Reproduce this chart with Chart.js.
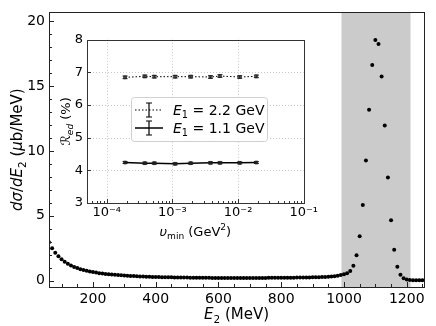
<!DOCTYPE html>
<html>
<head>
<meta charset="utf-8">
<script src="https://cdn.jsdelivr.net/npm/chart.js@4/dist/chart.umd.min.js"></script>
<style>
  body { margin: 0; background: #fff; }
  #wrap { position: relative; width: 436px; height: 326px; }
  #main { position: absolute; left: 0; top: 0; }
  #inset { position: absolute; left: 50px; top: 28px; }
</style>
</head>
<body>
<div id="wrap">
  <canvas id="main" width="436" height="326"></canvas>
  <canvas id="inset" width="270" height="215"></canvas>
</div>
<script>
// main plot: cross section vs E2 (MeV)
let energies = [60, 70, 80, 90, 100, 110, 120, 130, 140, 150,
  160, 170, 180, 190, 200, 210, 220, 230, 240, 250,
  260, 270, 280, 290, 300, 310, 320, 330, 340, 350,
  360, 370, 380, 390, 400, 410, 420, 430, 440, 450,
  460, 470, 480, 490, 500, 510, 520, 530, 540, 550,
  560, 570, 580, 590, 600, 610, 620, 630, 640, 650,
  660, 670, 680, 690, 700, 710, 720, 730, 740, 750,
  760, 770, 780, 790, 800, 810, 820, 830, 840, 850,
  860, 870, 880, 890, 900, 910, 920, 930, 940, 950,
  960, 970, 980, 990, 1000, 1010, 1020, 1030, 1040, 1050,
  1060, 1070, 1080, 1090, 1100, 1110, 1120, 1130, 1140, 1150,
  1160, 1170, 1180, 1190, 1200, 1210, 1220, 1230, 1240, 1250];

let crossSection = [2.95, 2.50, 2.15, 1.87, 1.64, 1.45, 1.29, 1.16, 1.05, 0.96,
  0.88, 0.81, 0.75, 0.70, 0.65, 0.61, 0.57, 0.54, 0.51, 0.48,
  0.46, 0.44, 0.42, 0.40, 0.38, 0.37, 0.35, 0.34, 0.33, 0.32,
  0.31, 0.30, 0.29, 0.28, 0.28, 0.27, 0.26, 0.26, 0.25, 0.25,
  0.24, 0.24, 0.23, 0.23, 0.23, 0.22, 0.22, 0.22, 0.21, 0.21,
  0.21, 0.21, 0.20, 0.20, 0.20, 0.20, 0.20, 0.20, 0.20, 0.20,
  0.20, 0.20, 0.20, 0.20, 0.20, 0.20, 0.20, 0.20, 0.20, 0.20,
  0.21, 0.21, 0.21, 0.21, 0.21, 0.22, 0.22, 0.22, 0.22, 0.23,
  0.23, 0.23, 0.24, 0.24, 0.25, 0.25, 0.26, 0.27, 0.28, 0.29,
  0.31, 0.33, 0.36, 0.43, 0.48, 0.56, 0.73, 1.14, 1.95, 3.41,
  5.83, 9.27, 13.18, 16.64, 18.56, 18.26, 15.76, 11.97, 7.95, 4.65,
  2.38, 1.06, 0.45, 0.18, 0.07, 0.04, 0.03, 0.03, 0.03, 0.03];

let xTicks = [200, 400, 600, 800, 1000, 1200];
let yTicks = [0, 5, 10, 15, 20];
let bandRange = [992, 1212]; // shaded E2 window

// inset: ratio vs nu_min (GeV^2)
let nuMin = [1.9e-4, 3.8e-4, 5.3e-4, 1.1e-3, 1.9e-3, 3.8e-3, 5.3e-3, 1.06e-2, 1.9e-2];
let ratio22 = [6.85, 6.88, 6.87, 6.87, 6.87, 6.86, 6.89, 6.86, 6.88];
let err22 = [0.04, 0.04, 0.04, 0.04, 0.04, 0.04, 0.04, 0.04, 0.04];
let ratio11 = [4.24, 4.22, 4.22, 4.20, 4.22, 4.23, 4.23, 4.23, 4.24];
let err11 = [0.03, 0.03, 0.03, 0.03, 0.03, 0.03, 0.03, 0.03, 0.03];
let insetXTicks = [1e-4, 1e-3, 1e-2, 1e-1];
let insetXTickLabels = ["10\u207B\u2074", "10\u207B\u00B3", "10\u207B\u00B2", "10\u207B\u00B9"];
let insetYTicks = [3, 4, 5, 6, 7, 8];

let fam = "'DejaVu Sans', sans-serif";

// draw text made of pieces: [text, italic, shift] (shift -1 = subscript, 1 = superscript)
function drawRich(ctx, parts, x, y, size, angle, align) {
  ctx.save();
  ctx.translate(x, y);
  ctx.rotate(angle || 0);
  let fontFor = p => (p[1] ? "italic " : "") + (p[2] ? size * 0.7 : size) + "px " + fam;
  let w = 0;
  parts.forEach(p => { ctx.font = fontFor(p); w += ctx.measureText(p[0]).width; });
  let cx = align === "left" ? 0 : -w / 2;
  ctx.fillStyle = "#000";
  ctx.textBaseline = "alphabetic";
  ctx.textAlign = "left";
  parts.forEach(p => {
    ctx.font = fontFor(p);
    let dy = p[2] === -1 ? size * 0.22 : p[2] === 1 ? -size * 0.4 : 0;
    ctx.fillText(p[0], cx, size * 0.36 + dy);
    cx += ctx.measureText(p[0]).width;
  });
  ctx.restore();
}

// main chart extras: grey band, frame, inward ticks, axis titles
let mainDecor = {
  id: "mainDecor",
  beforeDatasetsDraw(chart) {
    let ctx = chart.ctx, a = chart.chartArea, x = chart.scales.x;
    ctx.save();
    ctx.fillStyle = "#cbcbcb";
    let x0 = x.getPixelForValue(bandRange[0]), x1 = x.getPixelForValue(bandRange[1]);
    ctx.fillRect(x0, a.top, x1 - x0, a.bottom - a.top);
    ctx.restore();
  },
  afterDraw(chart) {
    let ctx = chart.ctx, a = chart.chartArea, x = chart.scales.x, y = chart.scales.y;
    ctx.save();
    ctx.strokeStyle = "#222";
    ctx.lineWidth = 1;
    ctx.strokeRect(Math.round(a.left) + 0.5, Math.round(a.top) + 0.5,
      Math.round(a.right - a.left), Math.round(a.bottom - a.top));
    ctx.beginPath();
    for (let v = 100; v <= 1250; v += 50) {
      let px = Math.round(x.getPixelForValue(v)) + 0.5;
      let len = v % 200 === 0 ? 5 : 3;
      ctx.moveTo(px, a.bottom); ctx.lineTo(px, a.bottom - len);
    }
    for (let v = 0; v <= 20; v += 1) {
      let py = Math.round(y.getPixelForValue(v)) + 0.5;
      let len = v % 5 === 0 ? 5 : 3;
      ctx.moveTo(a.left, py); ctx.lineTo(a.left + len, py);
    }
    ctx.stroke();
    ctx.restore();

    drawRich(ctx, [["d", true], ["\u03C3", true], ["/", false], ["d", true], ["E", true], ["2", false, -1],
      [" (", false], ["\u03BC", true], ["b/MeV)", false]], 17, (a.top + a.bottom) / 2, 15, -Math.PI / 2);
    drawRich(ctx, [["E", true], ["2", false, -1], [" (MeV)", false]], (a.left + a.right) / 2, 314, 15, 0);
  }
};

let mainChart = new Chart(document.getElementById("main").getContext("2d"), {
  type: "scatter",
  data: {
    datasets: [{
      data: energies.map((e, i) => ({ x: e, y: crossSection[i] })),
      pointRadius: 2,
      pointBackgroundColor: "#000",
      pointBorderColor: "#000",
      pointBorderWidth: 0,
      showLine: false
    }]
  },
  options: {
    responsive: false,
    animation: false,
    devicePixelRatio: 1,
    layout: { padding: { left: 0, right: 12, top: 7, bottom: 0 } },
    plugins: { legend: { display: false }, tooltip: { enabled: false } },
    scales: {
      x: {
        type: "linear", min: 60, max: 1255,
        afterBuildTicks: s => { s.ticks = xTicks.map(v => ({ value: v })); },
        afterFit: s => { s.height = 39; },
        grid: { display: false, drawTicks: false },
        border: { display: false },
        ticks: {
          color: "#000", font: { family: fam, size: 14 }, padding: 4, maxRotation: 0, autoSkip: false,
          callback: v => String(v)
        }
      },
      y: {
        min: -0.5, max: 20.7,
        afterBuildTicks: s => { s.ticks = yTicks.map(v => ({ value: v })); },
        afterFit: s => { s.width = 49; },
        grid: { display: false, drawTicks: false },
        border: { display: false },
        ticks: { color: "#000", font: { family: fam, size: 14 }, padding: 4, callback: v => String(v) }
      }
    }
  },
  plugins: [mainDecor]
});

// inset extras: dotted grid, error bars, frame, ticks, titles, legend
let insetDecor = {
  id: "insetDecor",
  beforeDatasetsDraw(chart) {
    let ctx = chart.ctx, a = chart.chartArea, x = chart.scales.x, y = chart.scales.y;
    ctx.save();
    ctx.strokeStyle = "#b8b8b8";
    ctx.lineWidth = 0.8;
    ctx.setLineDash([1, 2]);
    ctx.beginPath();
    [1e-4, 1e-3, 1e-2].forEach(v => {
      let px = Math.round(x.getPixelForValue(v)) + 0.5;
      ctx.moveTo(px, a.top); ctx.lineTo(px, a.bottom);
    });
    [4, 5, 6, 7].forEach(v => {
      let py = Math.round(y.getPixelForValue(v)) + 0.5;
      ctx.moveTo(a.left, py); ctx.lineTo(a.right, py);
    });
    ctx.stroke();
    ctx.restore();
  },
  afterDatasetsDraw(chart) {
    let ctx = chart.ctx, x = chart.scales.x, y = chart.scales.y;
    ctx.save();
    ctx.strokeStyle = "#222";
    ctx.lineWidth = 1;
    [[ratio22, err22], [ratio11, err11]].forEach(s => {
      nuMin.forEach((n, i) => {
        let px = x.getPixelForValue(n);
        let top = y.getPixelForValue(s[0][i] + s[1][i]);
        let bot = y.getPixelForValue(s[0][i] - s[1][i]);
        ctx.beginPath();
        ctx.moveTo(px, top); ctx.lineTo(px, bot);
        ctx.moveTo(px - 2.5, top); ctx.lineTo(px + 2.5, top);
        ctx.moveTo(px - 2.5, bot); ctx.lineTo(px + 2.5, bot);
        ctx.stroke();
      });
    });
    ctx.restore();
  },
  afterDraw(chart) {
    let ctx = chart.ctx, a = chart.chartArea, x = chart.scales.x, y = chart.scales.y;
    ctx.save();
    ctx.strokeStyle = "#333";
    ctx.lineWidth = 1;
    ctx.strokeRect(Math.round(a.left) + 0.5, Math.round(a.top) + 0.5,
      Math.round(a.right - a.left), Math.round(a.bottom - a.top));
    ctx.beginPath();
    for (let d = -5; d <= -1; d++) {
      for (let m = 1; m <= 9; m++) {
        let v = m * Math.pow(10, d);
        if (v < 5e-5 || v > 0.1) continue;
        let px = Math.round(x.getPixelForValue(v)) + 0.5;
        let len = m === 1 ? 4 : 2;
        ctx.moveTo(px, a.bottom); ctx.lineTo(px, a.bottom - len);
      }
    }
    insetYTicks.forEach(v => {
      let py = Math.round(y.getPixelForValue(v)) + 0.5;
      ctx.moveTo(a.left, py); ctx.lineTo(a.left + 4, py);
    });
    ctx.stroke();
    ctx.restore();

    drawRich(ctx, [["\u211B", true], ["ed", true, -1], [" (%)", false]], 15, (a.top + a.bottom) / 2, 13, -Math.PI / 2);
    drawRich(ctx, [["\u03C5", true], ["min", false, -1], [" (GeV", false], ["2", false, 1], [")", false]],
      (a.left + a.right) / 2, 203, 13, 0);

    // legend box
    ctx.save();
    ctx.fillStyle = "rgba(255,255,255,0.85)";
    ctx.strokeStyle = "#d0d0d0";
    ctx.lineWidth = 1;
    ctx.beginPath();
    ctx.roundRect(81.5, 69.5, 136, 44, 3);
    ctx.fill();
    ctx.stroke();
    ctx.strokeStyle = "#000";
    [[82, [1.5, 2], 1], [100, [], 1.5]].forEach(e => {
      ctx.lineWidth = e[2];
      ctx.setLineDash(e[1]);
      ctx.beginPath();
      ctx.moveTo(85, e[0]); ctx.lineTo(113, e[0]);
      ctx.stroke();
      ctx.setLineDash([]);
      ctx.lineWidth = 1.2;
      ctx.beginPath();
      ctx.moveTo(99, e[0] - 7); ctx.lineTo(99, e[0] + 7);
      ctx.moveTo(96, e[0] - 7); ctx.lineTo(102, e[0] - 7);
      ctx.moveTo(96, e[0] + 7); ctx.lineTo(102, e[0] + 7);
      ctx.stroke();
    });
    ctx.restore();
    drawRich(ctx, [["E", true], ["1", false, -1], [" = 2.2 GeV", false]], 123, 82, 14, 0, "left");
    drawRich(ctx, [["E", true], ["1", false, -1], [" = 1.1 GeV", false]], 123, 100, 14, 0, "left");
  }
};

let insetChart = new Chart(document.getElementById("inset").getContext("2d"), {
  type: "scatter",
  data: {
    datasets: [{
      label: "E1 = 2.2 GeV",
      data: nuMin.map((n, i) => ({ x: n, y: ratio22[i] })),
      showLine: true,
      borderColor: "#000",
      borderWidth: 1,
      borderDash: [1.5, 2],
      pointStyle: "rect",
      pointRadius: 2,
      pointBackgroundColor: "#777",
      pointBorderColor: "#333",
      pointBorderWidth: 0.8
    }, {
      label: "E1 = 1.1 GeV",
      data: nuMin.map((n, i) => ({ x: n, y: ratio11[i] })),
      showLine: true,
      borderColor: "#000",
      borderWidth: 1.5,
      pointStyle: "rect",
      pointRadius: 2,
      pointBackgroundColor: "#222",
      pointBorderColor: "#222",
      pointBorderWidth: 0.8
    }]
  },
  options: {
    responsive: false,
    animation: false,
    devicePixelRatio: 1,
    layout: { padding: { left: 0, right: 8, top: 7, bottom: 0 } },
    plugins: { legend: { display: false }, tooltip: { enabled: false } },
    scales: {
      x: {
        type: "logarithmic", min: 5e-5, max: 0.1,
        afterBuildTicks: s => { s.ticks = insetXTicks.map(v => ({ value: v })); },
        afterFit: s => { s.height = 40; },
        grid: { display: false, drawTicks: false },
        border: { display: false },
        ticks: {
          color: "#000", font: { family: fam, size: 13 }, padding: 2, maxRotation: 0, autoSkip: false,
          callback: (v, i) => insetXTickLabels[i]
        }
      },
      y: {
        min: 3, max: 8,
        afterBuildTicks: s => { s.ticks = insetYTicks.map(v => ({ value: v })); },
        afterFit: s => { s.width = 37; },
        grid: { display: false, drawTicks: false },
        border: { display: false },
        ticks: { color: "#000", font: { family: fam, size: 13 }, padding: 4, callback: v => String(v) }
      }
    }
  },
  plugins: [insetDecor]
});
</script>
</body>
</html>
